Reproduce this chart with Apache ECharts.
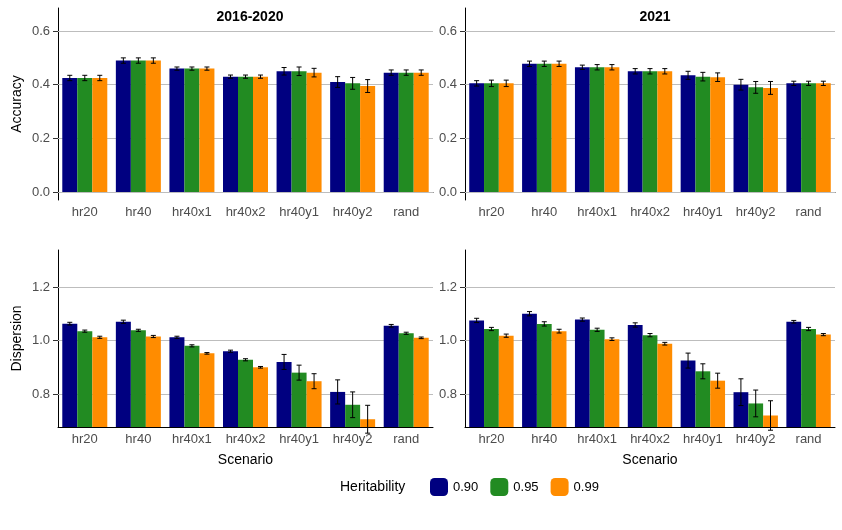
<!DOCTYPE html>
<html><head><meta charset="utf-8">
<script src="https://cdn.jsdelivr.net/npm/echarts@6/dist/echarts.min.js"></script>
<style>body{margin:0;background:#fff}#c{width:842px;height:530px}</style></head>
<body><div id="c"></div>
<script>
const categories = ['hr20','hr40','hr40x1','hr40x2','hr40y1','hr40y2','rand'];
const heritabilities = ['0.90','0.95','0.99'];
const colors = ['#000080','#228B22','#FF8C00'];
// Accuracy 2016-2020 [h0.90, h0.95, h0.99]
const acc1 = [[0.425,0.49,0.46,0.43,0.45,0.41,0.445],[0.425,0.49,0.46,0.43,0.45,0.405,0.445],[0.425,0.49,0.46,0.43,0.445,0.395,0.445]];
const accErr1 = [[0.01,0.01,0.006,0.006,0.014,0.02,0.01],[0.01,0.01,0.006,0.006,0.016,0.022,0.01],[0.01,0.01,0.006,0.006,0.016,0.024,0.01]];
const acc2 = [[0.405,0.478,0.465,0.45,0.435,0.4,0.405],[0.405,0.478,0.465,0.45,0.43,0.39,0.405],[0.405,0.478,0.465,0.45,0.428,0.388,0.405]];
const accErr2 = [[0.01,0.01,0.008,0.01,0.015,0.02,0.008],[0.012,0.01,0.01,0.01,0.016,0.022,0.008],[0.012,0.01,0.01,0.01,0.016,0.024,0.008]];
const disp1 = [[1.063,1.07,1.012,0.96,0.92,0.808,1.055],[1.035,1.038,0.98,0.928,0.88,0.76,1.027],[1.012,1.015,0.952,0.9,0.848,0.706,1.01]];
const dispErr1 = [[0.005,0.006,0.004,0.004,0.028,0.045,0.005],[0.004,0.004,0.004,0.004,0.028,0.048,0.004],[0.004,0.004,0.003,0.003,0.028,0.052,0.003]];
const disp2 = [[1.075,1.1,1.078,1.058,0.925,0.807,1.07],[1.043,1.062,1.04,1.02,0.885,0.765,1.043],[1.018,1.035,1.005,0.988,0.85,0.72,1.022]];
const dispErr2 = [[0.008,0.008,0.006,0.008,0.028,0.05,0.005],[0.006,0.008,0.006,0.006,0.028,0.05,0.006],[0.006,0.007,0.005,0.005,0.028,0.055,0.004]];
const accTicks = [0,0.2,0.4,0.6];
const dispTicks = [0.8,1.0,1.2];

const grids = [
  {left:58,top:8,width:375,height:192},
  {left:465,top:8,width:370,height:192},
  {left:58,top:250,width:375,height:177},
  {left:465,top:250,width:370,height:177}
];
const panels = [
  {vals:acc1,errs:accErr1,min:-0.03,max:0.686,ticks:accTicks},
  {vals:acc2,errs:accErr2,min:-0.03,max:0.686,ticks:accTicks},
  {vals:disp1,errs:dispErr1,min:0.677,max:1.338,ticks:dispTicks},
  {vals:disp2,errs:dispErr2,min:0.677,max:1.338,ticks:dispTicks}
];
const lab = {color:'#4d4d4d',fontSize:13,fontFamily:'Liberation Sans, Arial'};
const xAxis=[],yAxis=[],series=[];
const gap='16%';
panels.forEach((p,g)=>{
  xAxis.push({type:'category',gridIndex:g,data:categories,axisLine:{lineStyle:{color:'#000'}},
    axisTick:{lineStyle:{color:'#333'},alignWithLabel:true},axisLabel:{...lab,margin:6},
    name:g>=2?'Scenario':'',nameLocation:'middle',nameGap:26,nameTextStyle:{color:'#000',fontSize:14,fontFamily:'Liberation Sans, Arial'}});
  yAxis.push({type:'value',gridIndex:g,min:p.min,max:p.max,splitLine:{show:false},
    axisLine:{show:true,lineStyle:{color:'#000'}},
    axisTick:{show:true,customValues:p.ticks,lineStyle:{color:'#333'}},
    axisLabel:{...lab,customValues:p.ticks,formatter:v=>v.toFixed(1)},
    name:g===0?'Accuracy':(g===2?'Dispersion':''),nameLocation:'middle',nameGap:34,nameRotate:90,
    nameTextStyle:{color:'#000',fontSize:14,fontFamily:'Liberation Sans, Arial'}});
  heritabilities.forEach((h,i)=>{
    const s={type:'bar',name:h,xAxisIndex:g,yAxisIndex:g,data:p.vals[i],barGap:'0%',barCategoryGap:gap,
      itemStyle:{color:colors[i]},z:3};
    if(i===0) s.markLine={silent:true,symbol:'none',label:{show:false},lineStyle:{color:'#bdbdbd',type:'solid',width:1},
      data:p.ticks.map(t=>({yAxis:t})),z:1};
    series.push(s);
  });
  const ed=[];
  p.vals.forEach((arr,i)=>arr.forEach((v,c)=>ed.push([c,i,v,p.errs[i][c]])));
  series.push({type:'custom',xAxisIndex:g,yAxisIndex:g,data:ed,z:5,
    renderItem:(params,api)=>{
      const c=api.value(0),i=api.value(1),v=api.value(2),e=api.value(3);
      const bw=api.size([1,0])[0]*0.84/3;
      const top=api.coord([c,v+e]),bot=api.coord([c,v-e]);
      const x=top[0]+(i-1)*bw;
      const cap=2.5;
      const st={stroke:'#000',lineWidth:1};
      return {type:'group',children:[
        {type:'line',shape:{x1:x,y1:top[1],x2:x,y2:bot[1]},style:st},
        {type:'line',shape:{x1:x-cap,y1:top[1],x2:x+cap,y2:top[1]},style:st},
        {type:'line',shape:{x1:x-cap,y1:bot[1],x2:x+cap,y2:bot[1]},style:st}]};
    }});
});
const chart=echarts.init(document.getElementById('c'),null,{renderer:'canvas'});
chart.setOption({
  animation:false,
  title:[{text:'2016-2020',left:245,top:5,textAlign:'center',textStyle:{fontSize:14,fontWeight:'bold',color:'#000',fontFamily:'Liberation Sans, Arial'}},
         {text:'2021',left:650,top:5,textAlign:'center',textStyle:{fontSize:14,fontWeight:'bold',color:'#000',fontFamily:'Liberation Sans, Arial'}},
         {text:'Heritability',left:335,top:475,textStyle:{fontSize:14,fontWeight:'normal',color:'#000',fontFamily:'Liberation Sans, Arial'}}],
  grid:grids,xAxis,yAxis,series,
  legend:{data:heritabilities,left:425,top:473,itemWidth:18,itemHeight:18,itemGap:12,
    textStyle:{fontSize:13,color:'#000',fontFamily:'Liberation Sans, Arial'}}
});
</script></body></html>
